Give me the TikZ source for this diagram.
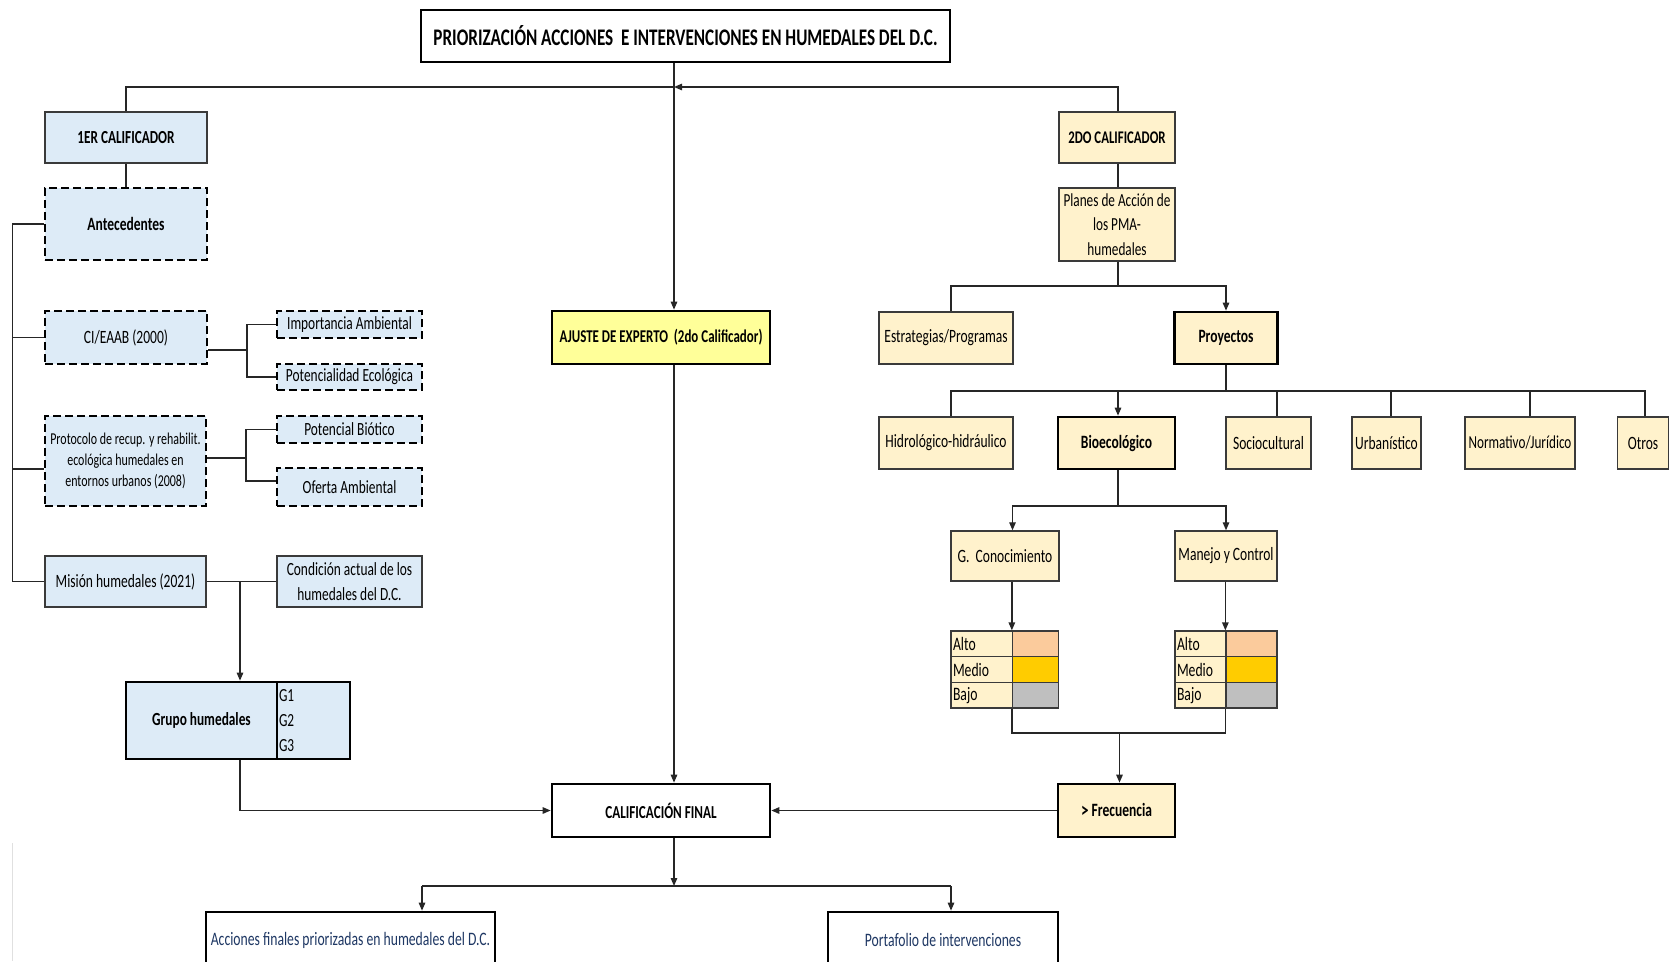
\documentclass[tikz,border=0pt]{standalone}
\usepackage{fontspec}
\setmainfont{Carlito}[FakeStretch=0.72]
\usetikzlibrary{arrows.meta}

\definecolor{bluefill}{HTML}{DDEBF7}
\definecolor{creamfill}{HTML}{FFF2CC}
\definecolor{yellowfill}{HTML}{FFFF99}
\definecolor{peach}{HTML}{FBCB9C}
\definecolor{gold}{HTML}{FFCC00}
\definecolor{greycell}{HTML}{BFBFBF}
\definecolor{navytext}{HTML}{1F3864}
\definecolor{edge}{HTML}{3A3A3A}

\newcommand\setfs[2]{\fontsize{#1}{#2}\selectfont}

\tikzset{
  base/.style={rectangle, inner sep=2pt, align=center, text=black,
    font=\setfs{18.8}{22}},
  wh/.style 2 args={minimum width=#1pt, minimum height=#2pt},
  thinbox/.style={base, draw=edge, line width=1.4pt},
  thickbox/.style={base, draw=black, line width=2.7pt},
  dashbox/.style={base, draw=black, line width=2.2pt, dash pattern=on 8pt off 4pt},
  bluebox/.style={fill=bluefill},
  creambox/.style={fill=creamfill},
  boldtext/.style={font=\setfs{#1}{22}\bfseries},
  conn/.style={draw=black!85, line width=1.3pt},
  arr/.style={conn, -{Triangle[length=8pt,width=6.5pt]}},
  cell/.style={rectangle, draw=edge, line width=1.3pt, inner sep=0pt,
    minimum height=25.67pt},
  labcell/.style={cell, fill=creamfill, align=left, inner xsep=2pt,
    font=\setfs{19}{21}}
}

\begin{document}
\begin{tikzpicture}[x=1pt,y=-1pt]
\useasboundingbox (0,0) rectangle (1672,961);
\clip (0,0) rectangle (1672,961);

% ---------- title ----------
\node[base, draw=black, line width=2pt, fill=white, wh={529}{52}, boldtext=23.8]
  (title) at (685.5,36) {PRIORIZACIÓN ACCIONES\ \ E INTERVENCIONES EN HUMEDALES DEL D.C.};

% ---------- first qualifier (left column) ----------
\node[thinbox, bluebox, wh={162}{51}, boldtext=18.4] (cal1) at (126,137.5) {1ER CALIFICADOR};
\node[dashbox, bluebox, wh={162}{72}, boldtext=18.8] (ante) at (126,224) {Antecedentes};
\node[dashbox, bluebox, wh={162}{53}] (ci) at (126,337.5) {CI/EAAB (2000)};
\node[dashbox, bluebox, wh={145}{27}, font=\setfs{18.6}{21}] (imp) at (349.5,324.5) {Importancia Ambiental};
\node[dashbox, bluebox, wh={145}{26}, font=\setfs{18.6}{21}] (pot) at (349.5,377) {Potencialidad Ecológica};
\node[dashbox, bluebox, wh={161}{90}, font=\setfs{16.6}{21}] (prot) at (125.5,461)
  {Protocolo de recup. y rehabilit.\\ ecológica humedales en\\ entornos urbanos (2008)};
\node[dashbox, bluebox, wh={145}{27}, font=\setfs{18.6}{21}] (bio) at (349.5,429.5) {Potencial Biótico};
\node[dashbox, bluebox, wh={145}{38}, font=\setfs{18.6}{21}] (ofe) at (349.5,487) {Oferta Ambiental};
\node[thinbox, bluebox, wh={161}{51}] (mis) at (125.5,581.5) {Misión humedales (2021)};
\node[thinbox, bluebox, wh={145}{51}, font=\setfs{18.6}{24.5}] (cond) at (349.5,581.5)
  {Condición actual de los\\ humedales del D.C.};

% wetland groups
\node[thickbox, bluebox, wh={151}{77}, boldtext=18.5] (gl) at (201.5,720.5) {Grupo humedales};
\node[thickbox, bluebox, wh={73}{77}, text width=69pt, align=left, font=\setfs{18.5}{25}]
  (gr) at (313.5,720.5) {G1\\G2\\G3};

% ---------- centre column ----------
\node[thickbox, fill=yellowfill, wh={218}{53}, boldtext=18] (ajuste) at (661,337.5)
  {AJUSTE DE EXPERTO\ \ (2do Calificador)};
\node[thickbox, fill=white, wh={218}{53}, boldtext=18.3] (calif) at (661,810.5) {CALIFICACIÓN FINAL};
\node[thickbox, fill=white, wh={289}{56}, text=navytext, font=\setfs{19}{21}] (acc) at (350.5,940)
  {Acciones finales priorizadas en humedales del D.C.};
\node[thickbox, fill=white, wh={230}{56}, text=navytext, font=\setfs{19}{21}] (port) at (943,940)
  {Portafolio de intervenciones};

% ---------- second qualifier (right column) ----------
\node[thinbox, creambox, wh={116}{51}, boldtext=17.8] (cal2) at (1117,137.5) {2DO CALIFICADOR};
\node[thinbox, creambox, wh={116}{73}, font=\setfs{18.4}{24.5}] (planes) at (1117,224.5)
  {Planes de Acción de\\ los PMA-\\ humedales};
\node[thinbox, creambox, wh={134}{52}] (estr) at (946,338) {Estrategias/Programas};
\node[thickbox, creambox, wh={103}{52}, boldtext=18.8] (proy) at (1226,338) {Proyectos};
\node[thinbox, creambox, wh={134}{52}] (hid) at (946,443) {Hidrológico-hidráulico};
\node[thickbox, creambox, wh={117}{52}, boldtext=18.8] (bioe) at (1116.5,443) {Bioecológico};
\node[thinbox, creambox, wh={85}{52}] (soc) at (1268.5,443) {Sociocultural};
\node[thinbox, creambox, wh={69}{52}] (urb) at (1386.5,443) {Urbanístico};
\node[thinbox, creambox, wh={110}{52}, font=\setfs{18.3}{21}] (norm) at (1520,443) {Normativo/Jurídico};
\node[thinbox, creambox, wh={51}{52}] (otros) at (1643,443) {Otros};
\node[thinbox, creambox, wh={108}{50}] (gcon) at (1005,556) {G.\ \ Conocimiento};
\node[thinbox, creambox, wh={102}{50}] (mane) at (1226,556) {Manejo y Control};

% level tables (a: G. Conocimiento, b: Manejo y Control)
\foreach \tb/\xl/\wl/\wc in {a/951/61.5/46.1, b/1175/51/51}{
  \pgfmathsetmacro\tw{\wl-4}
  \foreach \r/\lab/\col in {1/Alto/peach, 2/Medio/gold, 3/Bajo/greycell}{
    \node[labcell, text width=\tw pt, minimum width=\wl pt]
      (\tb\r l) at ({\xl+\wl/2},{631+25.667*(\r-0.5)}) {\lab};
    \node[cell, fill=\col, minimum width=\wc pt]
      (\tb\r c) at ({\xl+\wl+\wc/2},{631+25.667*(\r-0.5)}) {};
  }
}

\node[thickbox, creambox, wh={117}{53}, boldtext=18.8] (frec) at (1116.5,810.5)
  {\raisebox{-1pt}{\setfs{21}{22}>}\,Frecuencia};

% ---------- connectors ----------
\coordinate (hub) at (674,87);
\draw[conn] (title.south -| hub) -- (hub);
\draw[arr] (hub) -- (ajuste.north -| hub);
\draw[conn] (hub) -| (cal1.north);
\draw[arr] ([xshift=1pt]cal2.north) |- (hub);

% left column
\coordinate (sp) at (12.5,0);
\draw[conn] (cal1.south) -- (ante.north);
\draw[conn] (ante.west) -| (sp |- mis.west) -- (mis.west);
\draw[conn] (ci.west) -- (ci.west -| sp);
\draw[conn] ([yshift=-8pt]prot.west) -- ([yshift=-8pt]prot.west -| sp);

\coordinate (b1) at (247,350);
\draw[conn] ([yshift=-12.5pt]ci.east) -- (b1);
\draw[conn] (imp.west) -| (b1) |- (pot.west);
\coordinate (b2) at (246,458);
\draw[conn] ([yshift=3pt]prot.east) -- (b2);
\draw[conn] (bio.west) -| (b2) |- ([yshift=6pt]ofe.west);

\coordinate (mj) at (240,581.5);
\draw[conn] (mis.east) -- (cond.west);
\draw[arr] (mj) -- (mj |- gl.north);
\draw[arr] (mj |- gl.south) |- (calif.west);

% centre column
\draw[arr] (ajuste.south -| hub) -- (calif.north -| hub);
\draw[arr] (frec.west) -- (calif.east);
\coordinate (cj) at (674,886);
\coordinate (ka) at (422,886);
\coordinate (kp) at (951,886);
\draw[arr] (calif.south -| hub) -- (cj);
\draw[conn] (ka) -- (kp);
\draw[arr] (ka) -- (ka |- acc.north);
\draw[arr] (kp) -- (kp |- port.north);

% right column
\coordinate (r1) at (1118,286);
\coordinate (r2) at (1226,391);
\coordinate (r3) at (1118,506);
\draw[conn] ([xshift=1pt]cal2.south) -- ([xshift=1pt]planes.north);
\draw[conn] (r1 |- planes.south) -- (r1);
\draw[conn] (r1) -| ([xshift=5pt]estr.north);
\draw[arr] (r1) -| (proy.north);
\draw[conn] (proy.south) -- (r2);
\draw[conn] (r2) -| ([xshift=5pt]hid.north);
\draw[arr] (r2) -| ([xshift=1.5pt]bioe.north);
\draw[conn] (r2) -| ([xshift=8.5pt]soc.north);
\draw[conn] (r2) -| ([xshift=4.5pt]urb.north);
\draw[conn] (r2) -| ([xshift=10pt]norm.north);
\draw[conn] (r2) -| ([xshift=2pt]otros.north);
\draw[conn] ([xshift=1.5pt]bioe.south) -- (r3);
\draw[arr] (r3) -| ([xshift=7.5pt]gcon.north);
\draw[arr] (r3) -| (mane.north);
\draw[arr] (a1c.north west |- gcon.south) -- (a1c.north west);
\draw[arr] (b1c.north west |- mane.south) -- (b1c.north west);
\coordinate (fj) at (1119.5,733);
\draw[conn] (a3c.south west) |- (fj) -| (b3c.south west);
\draw[arr] (fj) -- (fj |- frec.north);

% faint margin rule at the lower left
\coordinate (m1) at (12.6,843);
\coordinate (m2) at (12.6,961);
\draw[black!12, line width=1pt] (m1) -- (m2);
\end{tikzpicture}
\end{document}
